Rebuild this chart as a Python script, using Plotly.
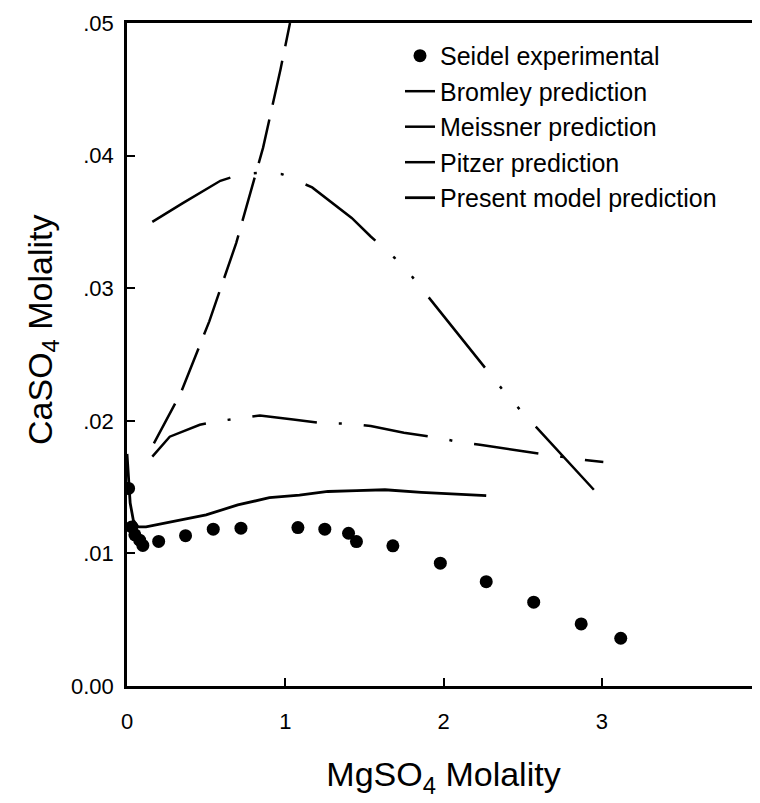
import plotly.graph_objects as go

# ---- data ----
seidel_x = [0.01, 0.03, 0.05, 0.08, 0.10, 0.20, 0.37, 0.545, 0.72, 1.08, 1.25, 1.40, 1.45, 1.68, 1.98, 2.27, 2.57, 2.87, 3.12]
seidel_y = [0.0149, 0.0120, 0.0114, 0.0110, 0.0106, 0.0109, 0.01134, 0.01183, 0.0119, 0.01195, 0.01183, 0.01152, 0.01089, 0.01057, 0.00926, 0.00787, 0.00632, 0.00468, 0.0036]

bromley_x = [0.17, 0.34, 0.52, 0.69, 0.86, 0.97, 1.03]
bromley_y = [0.0183, 0.0221, 0.0275, 0.0334, 0.0406, 0.0465, 0.0500]

meissner_x = [0.16, 0.35, 0.59, 0.72, 0.84, 0.98, 1.17, 1.42, 1.54, 1.69, 1.80, 2.18, 2.29, 2.41, 2.51, 2.95]
meissner_y = [0.0350, 0.0364, 0.0381, 0.0386, 0.0387, 0.0386, 0.0376, 0.0353, 0.0339, 0.0323, 0.0309, 0.0252, 0.0236, 0.0218, 0.0205, 0.0148]

pitzer_x = [0.16, 0.27, 0.46, 0.59, 0.72, 0.84, 1.05, 1.25, 1.40, 1.54, 1.75, 1.97, 2.10, 2.23, 2.45, 2.67, 2.85, 3.01]
pitzer_y = [0.0173, 0.0188, 0.0197, 0.0200, 0.0202, 0.0204, 0.0201, 0.0198, 0.0198, 0.0196, 0.0191, 0.0187, 0.0184, 0.0182, 0.0178, 0.0174, 0.0171, 0.0169]

present_x = [0.0, 0.01, 0.02, 0.04, 0.07, 0.12, 0.34, 0.50, 0.70, 0.90, 1.09, 1.27, 1.45, 1.63, 1.86, 2.08, 2.27]
present_y = [0.0175, 0.0155, 0.0138, 0.0125, 0.0120, 0.0120, 0.01253, 0.0129, 0.01366, 0.0142, 0.0144, 0.01467, 0.01474, 0.0148, 0.0146, 0.01447, 0.01435]

x_tickvals = [0, 1, 2, 3, 4]
x_ticktext = ["0", "1", "2", "3", "4"]
y_tickvals = [0.0, 0.01, 0.02, 0.03, 0.04, 0.05]
y_ticktext = ["0.00", ".01", ".02", ".03", ".04", ".05"]

FONT = "Liberation Sans, Arial, Helvetica, sans-serif"

fig = go.Figure()
fig.add_trace(go.Scatter(x=seidel_x, y=seidel_y, mode="markers", name="Seidel experimental",
                         marker=dict(color="black", size=13), legendgroup="a"))
fig.add_trace(go.Scatter(x=bromley_x, y=bromley_y, mode="lines", name="Bromley prediction",
                         line=dict(color="black", width=2.5, dash="45px,15px"), legendgroup="b"))
fig.add_trace(go.Scatter(x=meissner_x, y=meissner_y, mode="lines", name="Meissner prediction",
                         line=dict(color="black", width=2.5, dash="90px,24px,3px,24px,3px,24px"), legendgroup="c"))
fig.add_trace(go.Scatter(x=pitzer_x, y=pitzer_y, mode="lines", name="Pitzer prediction",
                         line=dict(color="black", width=2.5, dash="65px,22px,3px,22px"), legendgroup="d"))
fig.add_trace(go.Scatter(x=present_x, y=present_y, mode="lines", name="Present model prediction",
                         line=dict(color="black", width=2.8), legendgroup="e"))

# page body has an 8px default margin, so the figure is offset by 8px right and down
fig.update_layout(
    width=760, height=803,
    margin=dict(l=119, r=8, t=15, b=125, autoexpand=False),
    paper_bgcolor="white", plot_bgcolor="white",
    font=dict(family=FONT, color="black"),
    showlegend=True,
    legend=dict(x=(400 - 127) / 633, y=0.985, xanchor="left", yanchor="top",
                bgcolor="rgba(0,0,0,0)", font=dict(size=25, family=FONT),
                tracegroupgap=0, itemsizing="trace"),
    xaxis=dict(range=[0, 4], tickvals=x_tickvals, ticktext=x_ticktext, automargin=False,
               showline=True, linecolor="black", linewidth=2.5, mirror=True,
               ticks="inside", ticklen=8, tickwidth=2, tickcolor="black",
               showgrid=False, zeroline=False, tickfont=dict(size=22),
               ticklabelstandoff=14, ticklabeloverflow="allow",
               title=dict(text="MgSO<sub>4</sub> Molality", font=dict(size=34), standoff=30)),
    yaxis=dict(range=[0, 0.05], tickvals=y_tickvals, ticktext=y_ticktext, automargin=False,
               showline=True, linecolor="black", linewidth=2.5, mirror=True,
               ticks="inside", ticklen=8, tickwidth=2, tickcolor="black",
               showgrid=False, zeroline=False, tickfont=dict(size=22),
               ticklabelstandoff=6),
    annotations=[dict(text="CaSO<sub>4</sub> Molality", textangle=-90, showarrow=False,
                      xref="paper", yref="paper", x=(42 - 127) / 633, y=(686 - 330) / 663,
                      xanchor="center", yanchor="middle", font=dict(size=34, family=FONT))],
)

fig.write_html("out.html")
